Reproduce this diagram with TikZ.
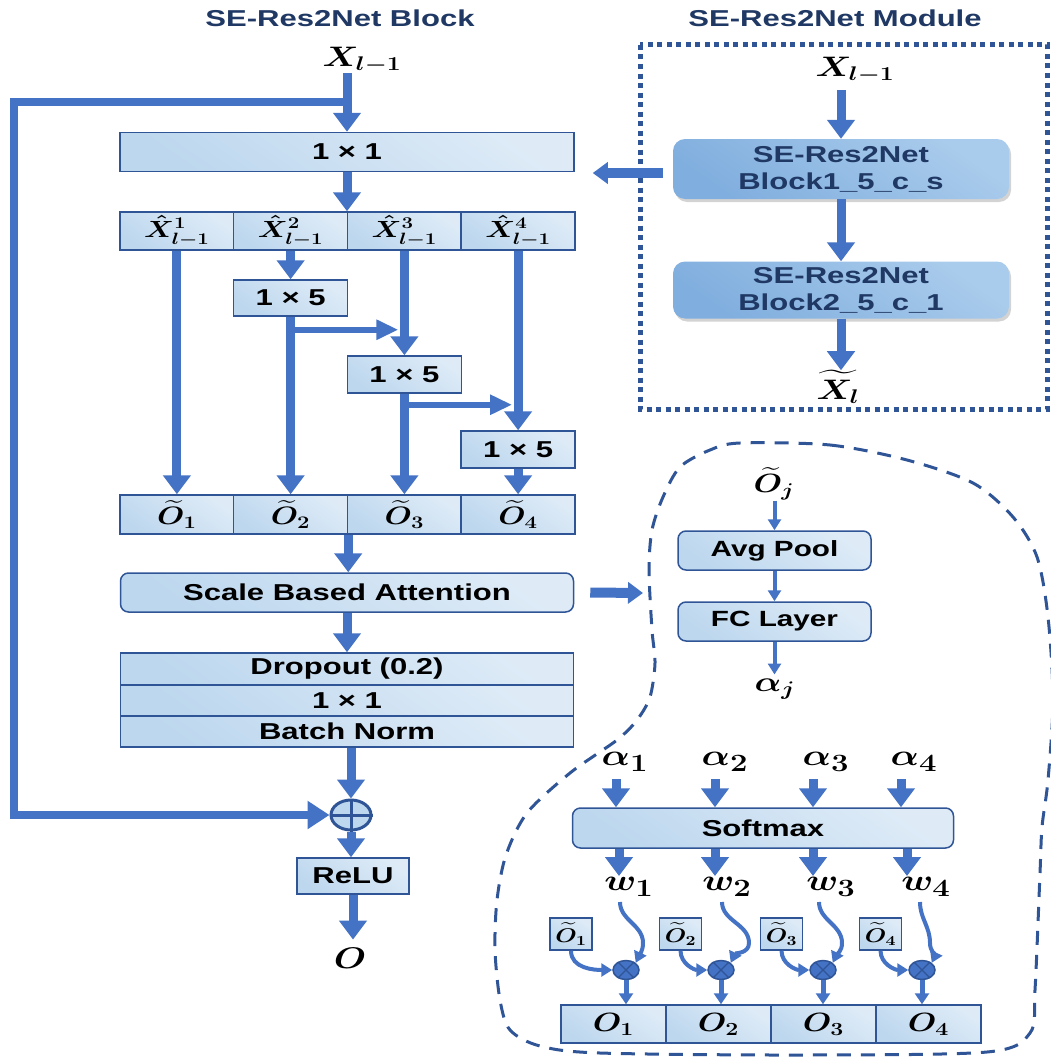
\documentclass[tikz,border=0pt]{standalone}
\usepackage{fix-cm}
\usepackage{amsmath,bm,graphicx}
\usepackage[no-math]{fontspec}
\setmainfont{Liberation Sans}[FakeStretch=1.35]
\usetikzlibrary{positioning,arrows.meta,calc,shapes.geometric,shadows}

\definecolor{boxtop}{RGB}{222,235,247}
\definecolor{boxbot}{RGB}{189,215,238}
\definecolor{boxline}{RGB}{47,85,151}
\definecolor{arr}{RGB}{68,114,196}
\definecolor{navy}{RGB}{31,56,100}
\definecolor{modtop}{RGB}{170,204,236}
\definecolor{modbot}{RGB}{128,174,222}

\newcommand{\ml}[1]{\scalebox{1.5}[1.2]{$\bm{#1}$}}
\newcommand{\lab}{\fontsize{23}{27}\selectfont\bfseries}

\begin{document}
\begin{tikzpicture}[x=1pt,y=-1pt,
  box/.style={draw=boxline,line width=1.5pt,top color=boxtop,bottom color=boxbot,shading angle=-35,inner sep=0pt,font=\lab},
  rbox/.style={box,rounded corners=8pt},
  modbox/.style={rounded corners=12pt,top color=modtop,bottom color=modbot,shading angle=-35,
    drop shadow={opacity=0.35,shadow xshift=2pt,shadow yshift=-3pt},
    minimum width=336pt,inner sep=0pt,font=\lab,text=navy,align=center},
  mlab/.style={inner sep=0pt,font=\fontsize{23.5}{26}\selectfont},
  ttl/.style={font=\lab,text=navy},
  bigar/.style={draw=arr,line width=9pt,-{Triangle[width=27pt,length=19pt]}},
  midar/.style={draw=arr,line width=6pt,-{Triangle[width=19pt,length=22pt]}},
  thinar/.style={draw=arr,line width=4pt,-{Triangle[width=13pt,length=11pt]}},
  fatar/.style={draw=arr,line width=10pt,-{Triangle[width=21pt,length=15pt]}},
  skipar/.style={draw=arr,line width=8pt,line join=miter,-{Triangle[width=27pt,length=22pt]}}]
  \useasboundingbox (0,0) rectangle (1051,1057);

  % titles
  \node[ttl] (tblock) at (340,18) {SE-Res2Net Block};
  \node[ttl] (tmod) at (835,18) {SE-Res2Net Module};

  % block
  \node[mlab] (xin) at (362,60) {\ml{X_{l-1}}};
  \coordinate (br) at (347,102);
  \coordinate (c1) at (14,102);
  \node[box,minimum width=454pt,minimum height=39pt] (conv1) at (347,152) {1 × 1};
  \foreach \i/\x in {1/176.9,2/290.6,3/404.4,4/518.1}{
    \node[box,minimum width=113.75pt,minimum height=38pt,font=\fontsize{19.5}{21}\selectfont] (s\i) at (\x,231) {\ml{\hat{X}^{\i}_{l-1}}};
    \node[box,minimum width=113.75pt,minimum height=39pt,font=\fontsize{21}{23}\selectfont] (o\i) at (\x,514.5) {\ml{\widetilde{O}_{\i}}};
  }
  \node[box,minimum width=113.75pt,minimum height=36pt] (k1) at (290.6,298) {1 × 5};
  \node[box,minimum width=113.75pt,minimum height=37pt] (k2) at (404.4,374.5) {1 × 5};
  \node[box,minimum width=113.75pt,minimum height=37pt] (k3) at (518.1,449.5) {1 × 5};
  \node[rbox,minimum width=453pt,minimum height=39pt] (sba) at (347,592.5) {Scale Based Attention};
  \node[box,minimum width=453pt,minimum height=32pt] (drop) at (347,669) {Dropout (0.2)};
  \node[box,minimum width=453pt,minimum height=31pt] (conv2) at (347,700.5) {1 × 1};
  \node[box,minimum width=453pt,minimum height=31pt] (bn) at (347,731.5) {Batch Norm};
  \node[ellipse,draw=boxline,line width=3pt,fill=boxbot,minimum width=40pt,minimum height=30pt,inner sep=0pt] (sum) at (351,815) {};
  \draw[boxline,line width=3pt] (sum.north) -- (sum.south) (sum.west) -- (sum.east);
  \node[box,minimum width=112pt,minimum height=36pt] (relu) at (353,876) {ReLU};
  \node[mlab,font=\fontsize{24.88}{27}\selectfont] (out) at (350,958) {\ml{O}};

  \draw[skipar] (br) -- (c1) -- (c1 |- sum.west) -- (sum.west);
  \draw[bigar] (br |- xin.south) -- (conv1.north);
  \draw[bigar] (conv1.south) -- (conv1.south |- s2.north);
  \draw[bigar] (s1.south) -- (o1.north);
  \draw[bigar] (s2.south) -- (k1.north);
  \draw[bigar] (k1.south) -- (o2.north);
  \draw[bigar] (s3.south) -- (k2.north);
  \draw[bigar] (k2.south) -- (o3.north);
  \draw[bigar] (s4.south) -- (k3.north);
  \draw[bigar] (k3.south) -- (o4.north);
  \coordinate (j1) at ($(k1.south)+(0,13)$);
  \coordinate (j2) at ($(k2.south)+(0,11)$);
  \draw[midar] (j1) -- ($(j1 -| s3.south)+(-6,0)$);
  \draw[midar] (j2) -- ($(j2 -| s4.south)+(-6,0)$);
  \draw[bigar] (o2.south east) -- (o2.south east |- sba.north);
  \draw[bigar] (sba.south) -- (drop.north);
  \draw[bigar] (sum.north |- bn.south) -- (sum.north);
  \draw[bigar] (sum.south) -- (sum.south |- relu.north);
  \draw[bigar,shorten >=8pt] (relu.south) -- (relu.south |- out.north);

  % module
  \draw[boxline,line width=5pt,dash pattern=on 5pt off 4.5pt] (640,45) rectangle (1047,409);
  \node[mlab] (mxin) at (855,70) {\ml{X_{l-1}}};
  \node[modbox,minimum height=60pt] (mb1) at (841,169) {SE-Res2Net\\Block1\_5\_c\_s};
  \node[modbox,minimum height=57pt] (mb2) at (841,290) {SE-Res2Net\\Block2\_5\_c\_1};
  \node[mlab] (mxout) at (838,387) {\ml{\widetilde{X_l}}};
  \draw[bigar,shorten <=7pt] (mb1.north |- mxin.south) -- (mb1.north);
  \draw[bigar] (mb1.south) -- (mb2.north);
  \draw[bigar] (mb2.south) -- (mb2.south |- mxout.north);
  \draw[fatar] ($(mb1.west)+(-10,4)$) -- ($(conv1.east |- mb1.west)+(18,4)$);

  % attention
  \draw[boxline,line width=3pt,dash pattern=on 14pt off 10pt] plot[smooth cycle] coordinates {
    (740,443) (830,445) (907,460) (973,483) (1013,517) (1037,557) (1048,617) (1053,700)
    (1048,780) (1042,827) (1040,873) (1035,990) (1030,1033) (987,1052) (800,1055) (600,1053)
    (540,1046) (510,1030) (500,1000) (495,950) (497,900) (506,855) (527,813) (570,773)
    (617,740) (637,720) (650,697) (655,663) (652,630) (649,570) (652,530) (663,497) (680,467) (710,450)};
  \coordinate (blobL) at (643,593);
  \draw[fatar] ($(sba.east)+(16,0)$) -- (blobL);
  \node[mlab,font=\fontsize{22}{24}\selectfont] (oj) at (774,484) {\ml{\widetilde{O}_j}};
  \node[rbox,minimum width=193pt,minimum height=39pt,font=\fontsize{22}{24}\selectfont\bfseries] (ap) at (774.5,550.5) {Avg Pool};
  \node[rbox,minimum width=193pt,minimum height=39pt,font=\fontsize{22}{24}\selectfont\bfseries] (fc) at (774.5,621.5) {FC Layer};
  \node[mlab] (aj) at (775,689) {\ml{\alpha_j}};
  \draw[thinar] (ap.north |- oj.south) -- (ap.north);
  \draw[thinar] (ap.south) -- (fc.north);
  \draw[thinar,shorten >=4pt] (fc.south) -- (fc.south |- aj.north);

  \node[rbox,minimum width=381pt,minimum height=40pt] (sm) at (763,828) {Softmax};
  \foreach \i/\ax/\sx/\dx/\wx/\cx/\bx/\tx/\mx/\ox in {
      1/625/616/619/629/620/643/571/626/613.5,
      2/725/715/715/727/722/749/680.5/721/718.5,
      3/826/813/813/831/819/842/781.5/823/823.5,
      4/914/901/907/926/920/930/880.5/922/928.5}{
    \node[mlab,font=\fontsize{24.88}{27}\selectfont] (a\i) at (\ax,762) {\ml{\alpha_{\i}}};
    \node[mlab,font=\fontsize{24.88}{27}\selectfont] (w\i) at (\wx,887) {\ml{w_{\i}}};
    \node[box,minimum width=42pt,minimum height=32pt,font=\fontsize{16.5}{18}\selectfont] (t\i) at (\tx,934) {\ml{\widetilde{O}_{\i}}};
    \node[ellipse,draw=boxline,line width=1.5pt,fill=arr,minimum width=26pt,minimum height=19pt,inner sep=0pt] (m\i) at (\mx,970) {};
    \draw[boxline,line width=1.2pt] (m\i.45) -- (m\i.225) (m\i.135) -- (m\i.315);
    \node[box,minimum width=105pt,minimum height=38pt,font=\fontsize{22}{24}\selectfont] (q\i) at (\ox,1024) {\ml{O_{\i}}};
    \coordinate (ua\i) at (\sx,779);
    \coordinate (dw\i) at (\dx,876);
    \coordinate (cs\i) at (\cx,902);
    \coordinate (bd\i) at (\bx,943);
    \draw[bigar] (ua\i) -- (ua\i |- sm.north);
    \draw[bigar] (dw\i |- sm.south) -- (dw\i);
    \draw[thinar] (cs\i) to[out=270,in=90] (bd\i) to[out=270,in=65] (m\i.north east);
    \draw[thinar] (t\i.south) to[out=270,in=180] (m\i.west);
    \draw[thinar,line width=5pt,-{Triangle[width=14pt,length=11pt]}] (m\i.south) -- (m\i.south |- q\i.north);
  }
\end{tikzpicture}
\end{document}
